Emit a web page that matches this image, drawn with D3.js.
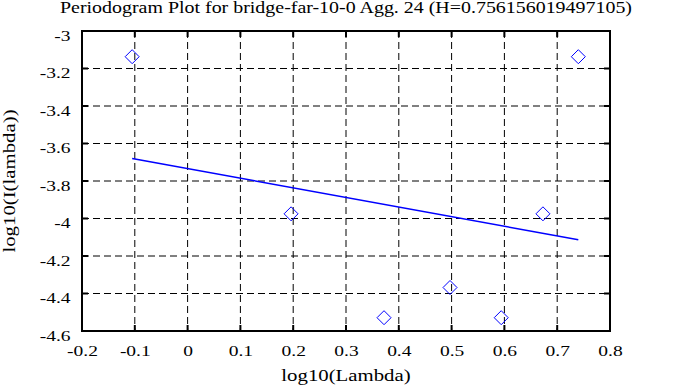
<!DOCTYPE html>
<html>
<head>
<meta charset="utf-8">
<script src="https://cdn.jsdelivr.net/npm/d3@7"></script>
<style>
  body { margin: 0; background: #fff; }
  svg text { font-family: "Liberation Serif", "DejaVu Serif", serif !important; fill: #000; }
</style>
</head>
<body>
<div id="chart"></div>
<script>
// data
var logLambda = [-0.105, 0.196, 0.372, 0.497, 0.594, 0.673, 0.740];
var logI = [-3.137, -3.975, -4.529, -4.368, -4.529, -3.975, -3.137];
var fitX = [-0.105, 0.740];
var fitY = [-3.680, -4.113];
var xTicks = [-0.2, -0.1, 0, 0.1, 0.2, 0.3, 0.4, 0.5, 0.6, 0.7, 0.8];
var yTicks = [-3, -3.2, -3.4, -3.6, -3.8, -4, -4.2, -4.4, -4.6];
var titleText = "Periodogram Plot for bridge-far-10-0 Agg. 24 (H=0.756156019497105)";

var svgWidth = 683, svgHeight = 387;
var margin = {top: 31, right: 73, bottom: 56, left: 82};
var width = svgWidth - margin.left - margin.right;
var height = svgHeight - margin.top - margin.bottom;
var stretch = 1.3;

var svg = d3.select("#chart").append("svg")
  .attr("width", svgWidth)
  .attr("height", svgHeight);

var g = svg.append("g")
  .attr("transform", `translate(${margin.left}, ${margin.top})`);

var x = d3.scaleLinear().domain([-0.2, 0.8]).range([0, width]);
var y = d3.scaleLinear().domain([-4.6, -3]).range([height, 0]);

// dashed grid
g.selectAll(".vgrid").data(xTicks.slice(1, -1)).enter().append("line")
  .attr("x1", d => x(d)).attr("x2", d => x(d))
  .attr("y1", 0).attr("y2", height)
  .attr("stroke", "#000").attr("stroke-dasharray", "7,4");
g.selectAll(".hgrid").data(yTicks.slice(1, -1)).enter().append("line")
  .attr("x1", 0).attr("x2", width)
  .attr("y1", d => y(d)).attr("y2", d => y(d))
  .attr("stroke", "#000").attr("stroke-dasharray", "7,4");

// inner ticks on all four sides
var tk = 6;
xTicks.forEach(function(d) {
  g.append("line").attr("x1", x(d)).attr("x2", x(d)).attr("y1", 0).attr("y2", tk)
    .attr("stroke", "#000").attr("stroke-width", 2);
  g.append("line").attr("x1", x(d)).attr("x2", x(d)).attr("y1", height).attr("y2", height - tk)
    .attr("stroke", "#000").attr("stroke-width", 2);
});
yTicks.forEach(function(d) {
  g.append("line").attr("x1", 0).attr("x2", tk).attr("y1", y(d)).attr("y2", y(d))
    .attr("stroke", "#000").attr("stroke-width", 2);
  g.append("line").attr("x1", width).attr("x2", width - tk).attr("y1", y(d)).attr("y2", y(d))
    .attr("stroke", "#000").attr("stroke-width", 2);
});

// frame
g.append("rect")
  .attr("width", width).attr("height", height)
  .attr("fill", "none").attr("stroke", "#000").attr("stroke-width", 2);

// axis labels through d3 axes
var bottomAxis = d3.axisBottom(x).tickValues(xTicks).tickSize(0).tickFormat(d => String(d));
var leftAxis = d3.axisLeft(y).tickValues(yTicks).tickSize(0).tickFormat(d => String(d));

var xa = g.append("g").attr("transform", `translate(0, ${height})`).call(bottomAxis);
xa.attr("font-family", null);
xa.select(".domain").remove();
xa.selectAll("text")
  .attr("y", 25).attr("dy", null)
  .attr("font-size", "15px")
  .attr("transform", `scale(${stretch},1)`);

var ya = g.append("g").call(leftAxis);
ya.attr("font-family", null);
ya.select(".domain").remove();
ya.selectAll("text")
  .attr("x", -11.5 / stretch).attr("dy", null).attr("y", 9)
  .attr("font-size", "15px")
  .attr("transform", `scale(${stretch},1)`);
ya.selectAll(".tick").filter(d => d === -4.6).select("text").attr("y", 9.5);

// fitted line
var line = d3.line().x(d => x(d[0])).y(d => y(d[1]));
g.append("path")
  .datum(fitX.map((d, i) => [d, fitY[i]]))
  .attr("d", line)
  .attr("fill", "none").attr("stroke", "#0000ff").attr("stroke-width", 1.5);

// diamonds
var r = 7;
g.selectAll(".pt").data(logLambda.map((d, i) => [d, logI[i]])).enter().append("path")
  .attr("d", d => {
    var cx = x(d[0]), cy = y(d[1]);
    return `M${cx},${cy - r}L${cx + r},${cy}L${cx},${cy + r}L${cx - r},${cy}Z`;
  })
  .attr("fill", "none").attr("stroke", "#0000ff").attr("stroke-width", 1);

// title and axis titles
svg.append("text")
  .attr("x", margin.left + width / 2).attr("y", 13)
  .attr("text-anchor", "middle")
  .attr("font-size", "16px")
  .attr("textLength", 572).attr("lengthAdjust", "spacingAndGlyphs")
  .text(titleText);

svg.append("text")
  .attr("transform", `translate(${margin.left + width / 2}, 381) scale(${stretch},1)`)
  .attr("text-anchor", "middle")
  .attr("font-size", "16px")
  .text("log10(Lambda)");

svg.append("text")
  .attr("transform", `translate(15, ${margin.top + height / 2}) rotate(-90) scale(${stretch},1)`)
  .attr("text-anchor", "middle")
  .attr("font-size", "16px")
  .text("log10(I(lambda))");
</script>
</body>
</html>
